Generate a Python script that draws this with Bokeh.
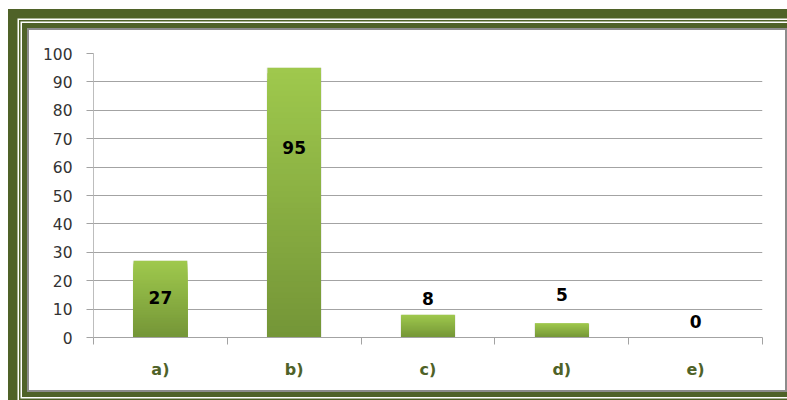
from bokeh.plotting import figure
from bokeh.models import Range1d, FixedTicker, ColumnDataSource
from bokeh.core.properties import value
from bokeh.embed import file_html
from bokeh.resources import INLINE

# --- data -------------------------------------------------------------
categories = ["a)", "b)", "c)", "d)", "e)"]
counts = [27, 95, 8, 5, 0]
y_ticks = [0, 10, 20, 30, 40, 50, 60, 70, 80, 90, 100]
# height (in axis units) at which each count label sits
label_heights = [14.1, 67.0, 13.9, 15.3, 5.5]

# --- layout -----------------------------------------------------------
# the white chart panel; the framed border is drawn around it with CSS
W, H = 756, 360
OFF_LEFT, OFF_TOP = 29, 30
ML, MR, MT, MB = 64, 23, 23, 53

OLIVE = "#4F6228"
BAR_TOP = (159, 201, 77)
BAR_BOTTOM = (116, 149, 55)
GRID = "#A3A3A3"
FONT = "DejaVu Sans"

p = figure(width=W, height=H, output_backend="svg", toolbar_location=None,
           x_range=Range1d(0, len(categories)), y_range=Range1d(0, 100),
           min_border_left=ML, min_border_right=MR,
           min_border_top=MT, min_border_bottom=MB)
p.outline_line_color = None
p.background_fill_color = "white"
p.border_fill_color = "white"

# double olive frame: thin grey edge, olive band, white / olive / white
# hairlines, then the wide outer olive band
rings = [(2, "#8C8C8C"), (7, OLIVE), (8.5, "#ffffff"), (10, OLIVE),
         (11.5, "#ffffff"), (21, OLIVE)]
p.styles = {
    "margin-left": f"{OFF_LEFT}px",
    "margin-top": f"{OFF_TOP}px",
    "box-shadow": ", ".join(f"0 0 0 {w}px {c}" for w, c in rings),
}

# --- bars with vertical gradient -------------------------------------
# nested rectangles from the base: the tallest (lightest) first, then
# progressively shorter and darker ones painted over it
STEPS = 48
bar_w = 0.4
lefts, rights, tops, colors = [], [], [], []
for i, v in enumerate(counts):
    if v <= 0:
        continue
    cx = i + 0.5
    for s in range(STEPS, 0, -1):
        f = s / STEPS
        t = (s - 0.5) / STEPS
        rgb = tuple(round(BAR_BOTTOM[k] + (BAR_TOP[k] - BAR_BOTTOM[k]) * t) for k in range(3))
        lefts.append(cx - bar_w / 2)
        rights.append(cx + bar_w / 2)
        tops.append(v * f)
        colors.append("#%02x%02x%02x" % rgb)

# soft edge behind each bar
shadow = ColumnDataSource(dict(x=[i + 0.5 for i in range(len(counts))], top=counts))
p.vbar(x="x", top="top", bottom=0, width=bar_w + 0.012, source=shadow,
       fill_color="#7f7f7f", fill_alpha=0.18, line_color=None)

grad = ColumnDataSource(dict(left=lefts, right=rights,
                             bottom=[0] * len(tops), top=tops, color=colors))
p.quad(left="left", right="right", bottom="bottom", top="top", source=grad,
       fill_color="color", line_color=None)

# --- value labels ----------------------------------------------------
labels = ColumnDataSource(dict(x=[i + 0.5 for i in range(len(counts))],
                               y=label_heights,
                               text=[str(v) for v in counts]))
p.text(x="x", y="y", text="text", source=labels,
       text_font=value(FONT), text_font_style="bold", text_font_size="17px",
       text_color="black", text_align="center", text_baseline="middle")

# --- axes & grid -----------------------------------------------------
p.xgrid.visible = False
p.ygrid.ticker = FixedTicker(ticks=y_ticks)
p.ygrid.grid_line_color = GRID
p.ygrid.grid_line_width = 1

ya = p.yaxis[0]
ya.ticker = FixedTicker(ticks=y_ticks)
ya.axis_line_color = "#BDBDBD"
ya.major_tick_line_color = GRID
ya.major_tick_out = 7
ya.major_tick_in = 0
ya.minor_tick_line_color = None
ya.major_label_text_font = FONT
ya.major_label_text_font_size = "15.5px"
ya.major_label_text_color = "#333333"
ya.major_label_standoff = 14

xa = p.xaxis[0]
centers = [i + 0.5 for i in range(len(categories))]
xa.ticker = FixedTicker(ticks=centers, minor_ticks=list(range(len(categories) + 1)))
xa.major_label_overrides = {c: name for c, name in zip(centers, categories)}
xa.axis_line_color = GRID
xa.major_tick_line_color = None
xa.major_tick_out = 0
xa.major_tick_in = 0
xa.minor_tick_line_color = GRID
xa.minor_tick_out = 7
xa.minor_tick_in = 0
xa.major_label_text_font = FONT
xa.major_label_text_font_style = "bold"
xa.major_label_text_font_size = "16px"
xa.major_label_text_color = OLIVE
xa.major_label_standoff = 15

open("out.html", "w").write(file_html(p, INLINE))
